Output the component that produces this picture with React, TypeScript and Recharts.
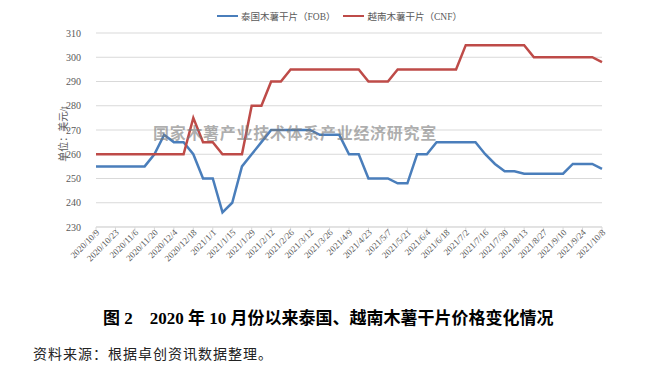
import React from "react";
import { CartesianGrid, Line, LineChart, XAxis, YAxis } from "recharts";

const dates = [
  "2020/10/9", "2020/10/16", "2020/10/23", "2020/10/30", "2020/11/6", "2020/11/13", "2020/11/20", "2020/11/27",
  "2020/12/4", "2020/12/11", "2020/12/18", "2020/12/25", "2021/1/1", "2021/1/8", "2021/1/15", "2021/1/22",
  "2021/1/29", "2021/2/5", "2021/2/12", "2021/2/19", "2021/2/26", "2021/3/5", "2021/3/12", "2021/3/19",
  "2021/3/26", "2021/4/2", "2021/4/9", "2021/4/16", "2021/4/23", "2021/4/30", "2021/5/7", "2021/5/14",
  "2021/5/21", "2021/5/28", "2021/6/4", "2021/6/11", "2021/6/18", "2021/6/25", "2021/7/2", "2021/7/9",
  "2021/7/16", "2021/7/23", "2021/7/30", "2021/8/6", "2021/8/13", "2021/8/20", "2021/8/27", "2021/9/3",
  "2021/9/10", "2021/9/17", "2021/9/24", "2021/10/1", "2021/10/8",
];

// 泰国木薯干片（FOB）
const thaiFob = [
  255, 255, 255, 255, 255, 255, 260, 268, 265, 265, 260, 250, 250, 236, 240, 255,
  260, 265, 270, 270, 270, 270, 270, 268, 268, 268, 260, 260, 250, 250, 250, 248,
  248, 260, 260, 265, 265, 265, 265, 265, 260, 256, 253, 253, 252, 252, 252, 252,
  252, 256, 256, 256, 254,
];

// 越南木薯干片（CNF）
const vietCnf = [
  260, 260, 260, 260, 260, 260, 260, 260, 260, 260, 275, 265, 265, 260, 260, 260,
  280, 280, 290, 290, 295, 295, 295, 295, 295, 295, 295, 295, 290, 290, 290, 295,
  295, 295, 295, 295, 295, 295, 305, 305, 305, 305, 305, 305, 305, 300, 300, 300,
  300, 300, 300, 300, 298,
];

const yTicks = [230, 240, 250, 260, 270, 280, 290, 300, 310];

const data = dates.map((d, i) => ({ date: d, thai: thaiFob[i], viet: vietCnf[i] }));

const BLUE = "#4a7ebb";
const RED = "#be4b48";
const FONT = '"Liberation Serif", "Noto Sans CJK SC", serif';

function XTick({ x, y, payload }: any) {
  return (
    <g transform={`translate(${x + 4},${y})`}>
      <text x={0} y={0} textAnchor="end" transform="rotate(-45)" fontSize={9} fill="#595959" fontFamily={FONT}>
        {payload.value}
      </text>
    </g>
  );
}

export default function App() {
  return (
    <div style={{ position: "absolute", left: 0, top: 0, width: 655, height: 371, background: "#fff", fontFamily: FONT }}>
      <LineChart width={655} height={300} data={data} margin={{ top: 33, right: 53, left: 60, bottom: 13 }}>
        <CartesianGrid stroke="#d9d9d9" vertical={false} />
        <XAxis
          dataKey="date"
          interval={1}
          height={60}
          tick={<XTick />}
          tickSize={4}
          tickLine={{ stroke: "#d9d9d9" }}
          axisLine={{ stroke: "#d9d9d9" }}
        />
        <YAxis
          domain={[230, 310]}
          ticks={yTicks}
          width={36}
          axisLine={false}
          tickLine={false}
          tickSize={0}
          tickMargin={15}
          tick={{ fontSize: 10, fill: "#595959", fontFamily: FONT }}
        />
        <Line type="linear" dataKey="thai" stroke={BLUE} strokeWidth={2.5} dot={false} isAnimationActive={false} />
        <Line type="linear" dataKey="viet" stroke={RED} strokeWidth={2.5} dot={false} isAnimationActive={false} />
      </LineChart>

      {/* legend */}
      <div style={{ position: "absolute", top: 9, left: 217, display: "flex", alignItems: "center", fontSize: 9.5, color: "#595959" }}>
        <span style={{ display: "inline-block", width: 21, height: 2.5, background: BLUE, marginRight: 3 }} />
        <span>泰国木薯干片（FOB）</span>
        <span style={{ display: "inline-block", width: 21, height: 2.5, background: RED, marginLeft: 8, marginRight: 3 }} />
        <span>越南木薯干片（CNF）</span>
      </div>

      {/* y axis unit */}
      <div
        style={{
          position: "absolute",
          left: 62,
          top: 134,
          transform: "translate(-50%, -50%) rotate(-90deg)",
          fontSize: 10,
          color: "#595959",
          whiteSpace: "nowrap",
        }}
      >
        单位：美元/t
      </div>

      {/* watermark */}
      <div
        style={{
          position: "absolute",
          left: 153,
          top: 120,
          fontSize: 16,
          fontWeight: 700,
          letterSpacing: 0.7,
          color: "rgba(120,120,120,0.6)",
          whiteSpace: "nowrap",
          fontFamily: '"Noto Sans CJK SC", sans-serif',
        }}
      >
        国家木薯产业技术体系产业经济研究室
      </div>

      {/* caption */}
      <div
        style={{
          position: "absolute",
          left: 103,
          top: 304,
          fontSize: 17,
          fontWeight: 700,
          color: "#000",
          whiteSpace: "nowrap",
        }}
      >
        图 2　2020 年 10 月份以来泰国、越南木薯干片价格变化情况
      </div>

      <div
        style={{
          position: "absolute",
          left: 33,
          top: 343,
          fontSize: 14,
          letterSpacing: 1,
          color: "#222",
          whiteSpace: "nowrap",
        }}
      >
        资料来源：根据卓创资讯数据整理。
      </div>
    </div>
  );
}
